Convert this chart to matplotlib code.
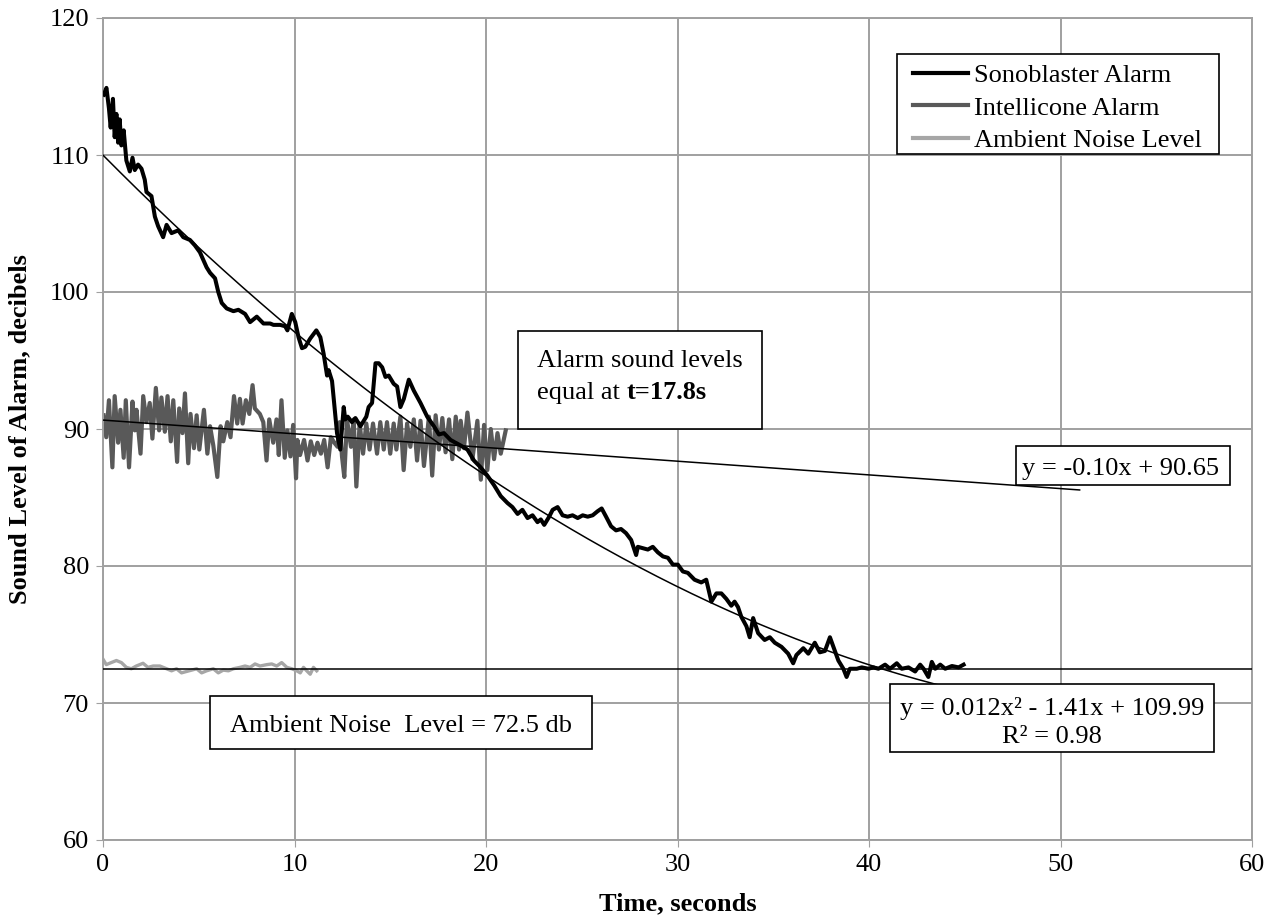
import matplotlib
matplotlib.use("Agg")
import matplotlib.pyplot as plt
from matplotlib.patches import Rectangle
import numpy as np

# Sonoblaster alarm readings (time s, level dB)
sono_t = [0.04, 0.18, 0.31, 0.40, 0.52, 0.61, 0.70, 0.79, 0.87, 0.96, 1.08, 1.22, 1.40, 1.54,
          1.66, 1.83, 2.01, 2.18, 2.27, 2.53, 2.71, 2.88, 3.14, 3.32, 3.58, 3.93, 4.19, 4.54,
          4.80, 5.06, 5.41, 5.59, 5.85, 6.02, 6.20, 6.46, 6.81, 7.07, 7.42, 7.68, 8.03, 8.38,
          8.73, 8.90, 9.25, 9.51, 9.63, 9.86, 10.04, 10.21, 10.39, 10.56, 10.82, 11.14, 11.35,
          11.52, 11.70, 11.78, 11.96, 12.22, 12.39, 12.57, 12.65, 12.78, 13.00, 13.18, 13.35,
          13.44, 13.75, 13.87, 14.05, 14.23, 14.40, 14.58, 14.75, 14.92, 15.18, 15.36, 15.53,
          15.71, 15.97, 16.23, 16.58, 16.93, 17.28, 17.54, 17.80, 18.15, 18.67, 19.03, 19.37,
          19.72, 20.07, 20.42, 20.77, 21.12, 21.38, 21.65, 21.90, 22.17, 22.43, 22.69, 22.86,
          23.04, 23.30, 23.48, 23.74, 24.00, 24.26, 24.52, 24.79, 25.05, 25.31, 25.57, 25.83,
          26.04, 26.27, 26.53, 26.79, 27.05, 27.31, 27.58, 27.84, 27.93, 28.19, 28.45, 28.71,
          28.97, 29.24, 29.50, 29.76, 30.02, 30.28, 30.54, 30.89, 31.24, 31.50, 31.77, 32.03,
          32.29, 32.55, 32.81, 32.98, 33.16, 33.33, 33.60, 33.77, 33.95, 34.21, 34.55, 34.82,
          35.08, 35.43, 35.78, 36.04, 36.21, 36.57, 36.83, 37.17, 37.43, 37.70, 37.96, 38.14,
          38.40, 38.66, 38.83, 39.00, 39.36, 39.62, 39.97, 40.23, 40.49, 40.84, 41.10, 41.45,
          41.71, 42.06, 42.41, 42.67, 42.85, 43.10, 43.28, 43.46, 43.72, 43.98, 44.33, 44.68,
          44.94]
sono_db = [114.4, 114.9, 113.4, 112.0, 114.1, 111.3, 113.0, 110.9, 112.6, 110.7, 111.8, 109.6,
           108.8, 109.8, 108.9, 109.3, 109.0, 108.2, 107.3, 107.0, 105.5, 104.8, 104.0, 104.9,
           104.3, 104.5, 104.0, 103.8, 103.4, 102.9, 101.8, 101.4, 101.0, 100.0, 99.2, 98.8,
           98.6, 98.7, 98.4, 97.8, 98.2, 97.7, 97.7, 97.6, 97.6, 97.5, 97.2, 98.4, 97.8, 96.7,
           95.9, 96.0, 96.6, 97.2, 96.7, 95.5, 93.9, 94.3, 93.5, 89.7, 88.5, 91.6, 90.7, 90.9,
           90.5, 90.8, 90.4, 90.2, 90.9, 91.6, 91.9, 94.8, 94.8, 94.5, 93.8, 93.9, 93.3, 93.1,
           91.6, 92.2, 93.6, 92.8, 91.9, 90.9, 90.2, 89.6, 89.7, 89.2, 88.8, 88.5, 87.7, 87.2,
           86.6, 85.9, 85.1, 84.6, 84.3, 83.8, 84.1, 83.5, 83.7, 83.2, 83.4, 83.0, 83.6, 84.1,
           84.3, 83.7, 83.6, 83.7, 83.5, 83.7, 83.6, 83.7, 84.0, 84.2, 83.6, 82.9, 82.6, 82.7,
           82.4, 81.9, 80.8, 81.4, 81.3, 81.2, 81.4, 81.0, 80.7, 80.6, 80.1, 80.1, 79.6, 79.5,
           79.0, 78.8, 79.0, 77.4, 78.0, 78.0, 77.6, 77.1, 77.4, 77.0, 76.3, 75.6, 74.8, 76.2,
           75.1, 74.6, 74.8, 74.4, 74.1, 73.6, 72.9, 73.5, 74.0, 73.6, 74.4, 73.7, 73.8, 74.8,
           74.1, 73.1, 72.5, 71.9, 72.5, 72.5, 72.6, 72.5, 72.6, 72.5, 72.8, 72.5, 72.9, 72.5,
           72.6, 72.3, 72.8, 72.5, 71.9, 73.0, 72.5, 72.8, 72.5, 72.7, 72.6, 72.8]

# Intellicone alarm readings
intel_t = [0.03, 0.17, 0.31, 0.49, 0.61, 0.79, 0.91, 1.08, 1.19, 1.36, 1.54, 1.66, 1.75, 1.96,
           2.10, 2.27, 2.44, 2.58, 2.76, 2.93, 3.05, 3.23, 3.37, 3.54, 3.67, 3.87, 3.98, 4.15,
           4.28, 4.45, 4.57, 4.75, 4.89, 5.03, 5.27, 5.45, 5.59, 5.76, 5.97, 6.14, 6.28, 6.49,
           6.66, 6.84, 7.01, 7.15, 7.29, 7.46, 7.64, 7.81, 7.93, 8.19, 8.37, 8.54, 8.68, 8.89,
           9.06, 9.18, 9.32, 9.49, 9.63, 9.79, 9.93, 10.08, 10.15, 10.29, 10.50, 10.68, 10.85,
           11.03, 11.20, 11.38, 11.55, 11.73, 11.90, 12.08, 12.25, 12.36, 12.48, 12.60, 12.74,
           12.95, 13.09, 13.23, 13.40, 13.58, 13.75, 13.92, 14.10, 14.31, 14.48, 14.66, 14.83,
           15.00, 15.18, 15.32, 15.53, 15.70, 15.88, 16.05, 16.23, 16.40, 16.58, 16.76, 17.02,
           17.19, 17.37, 17.54, 17.72, 17.89, 18.07, 18.24, 18.42, 18.59, 18.68, 18.85, 19.03,
           19.29, 19.55, 19.73, 19.90, 20.07, 20.25, 20.42, 20.60, 20.77, 21.03]
intel_db = [91.0, 89.4, 92.1, 87.2, 92.4, 89.0, 91.4, 87.9, 92.1, 87.2, 92.0, 89.9, 91.4, 88.2,
            92.4, 90.5, 91.9, 89.3, 93.0, 89.9, 92.3, 89.8, 92.4, 89.1, 92.1, 87.6, 91.5, 89.7,
            92.6, 87.5, 91.1, 88.6, 91.0, 88.5, 91.4, 88.2, 90.2, 88.8, 86.5, 90.2, 89.1, 90.5,
            89.4, 92.4, 90.4, 92.2, 90.4, 92.1, 91.1, 93.2, 91.5, 91.1, 90.5, 87.7, 90.7, 89.0,
            90.7, 88.1, 92.1, 87.9, 89.9, 88.0, 90.3, 86.4, 89.2, 88.1, 89.2, 87.7, 89.1, 88.1,
            89.0, 88.2, 89.2, 87.2, 89.4, 89.0, 88.7, 90.5, 88.0, 86.5, 90.7, 88.7, 90.7, 85.8,
            90.4, 88.2, 90.4, 88.5, 90.4, 88.2, 90.5, 88.5, 90.5, 88.2, 90.4, 88.5, 90.9, 87.0,
            90.4, 88.7, 90.7, 87.7, 90.6, 87.3, 90.9, 86.6, 91.0, 88.5, 90.8, 88.3, 90.7, 87.8,
            90.9, 88.5, 90.6, 88.6, 91.2, 87.8, 90.6, 86.3, 90.3, 87.0, 90.0, 87.8, 89.7, 88.2,
            89.9]

# Ambient noise readings
amb_t = [0.00, 0.17, 0.43, 0.70, 0.96, 1.22, 1.48, 1.74, 2.09, 2.35, 2.62, 2.97, 3.32, 3.58,
         3.84, 4.10, 4.36, 4.63, 4.89, 5.15, 5.41, 5.76, 6.02, 6.28, 6.55, 6.81, 7.15, 7.42,
         7.68, 7.94, 8.20, 8.55, 8.81, 9.07, 9.33, 9.60, 9.86, 10.12, 10.30, 10.47, 10.64,
         10.82, 10.99, 11.16]
amb_db = [73.2, 72.8, 72.95, 73.1, 72.95, 72.6, 72.5, 72.7, 72.9, 72.6, 72.7, 72.7, 72.5, 72.35,
          72.5, 72.2, 72.3, 72.4, 72.5, 72.2, 72.35, 72.5, 72.2, 72.4, 72.35, 72.5, 72.6, 72.7,
          72.6, 72.85, 72.7, 72.8, 72.85, 72.7, 72.95, 72.6, 72.5, 72.35, 72.2, 72.6, 72.35,
          72.1, 72.6, 72.35]

# trendline coefficients shown on the chart
quad_coef = [0.012, -1.41, 109.99]
lin_coef = [-0.10, 90.65]
ambient_level = 72.5

plt.rcParams['font.family'] = ['Liberation Serif', 'DejaVu Serif']
plt.rcParams['font.size'] = 19

fig = plt.figure(figsize=(12.76, 9.24), dpi=100)
ax = fig.add_axes([103/1276, 84/924, 1149/1276, 822/924])

ax.plot(sono_t, sono_db, color='black', lw=2.9, label='Sonoblaster Alarm', zorder=3)
ax.plot(intel_t, intel_db, color='#595959', lw=3.0, label='Intellicone Alarm', zorder=2)
ax.plot(amb_t, amb_db, color='#a6a6a6', lw=2.4, label='Ambient Noise Level', zorder=2)

tq = np.linspace(0, 45, 200)
ax.plot(tq, np.polyval(quad_coef, tq), color='black', lw=1.1, zorder=4)
tl = np.array([0, 51])
ax.plot(tl, np.polyval(lin_coef, tl), color='black', lw=1.1, zorder=4)
ax.axhline(ambient_level, color='black', lw=1.1, zorder=4)

ax.set_xlim(0, 60)
ax.set_ylim(60, 120)
ax.set_xticks(range(0, 61, 10))
ax.set_yticks(range(60, 121, 10))
ax.grid(True, color='#a0a0a0', lw=1.4)
ax.set_axisbelow(True)
for s in ax.spines.values():
    s.set_color('#a0a0a0')
    s.set_linewidth(1.4)
ax.tick_params(direction='out', length=5, color='#a0a0a0', labelsize=19, pad=5)
ax.set_xlabel('Time, seconds', fontweight='bold', fontsize=19, labelpad=12)
ax.set_ylabel('Sound Level of Alarm, decibels', fontweight='bold', fontsize=19, labelpad=13)


def fx(px):
    return (px - 103) / 1149


def fy(py):
    return (840 - py) / 822


def box(px0, px1, py0, py1):
    # pixel corners -> axes fraction
    ax.add_patch(Rectangle((fx(px0), fy(py1)), fx(px1) - fx(px0), fy(py0) - fy(py1),
                           transform=ax.transAxes, facecolor='white', edgecolor='black',
                           lw=1.2, zorder=6))


# legend with a plain square frame
box(897, 1219, 54, 154)
leg = ax.legend(loc='upper left', bbox_to_anchor=(fx(905), fy(56)), borderaxespad=0,
                frameon=False, handlelength=2.1, handletextpad=0.2, labelspacing=0.33,
                fontsize=19, borderpad=0.3)
leg.set_zorder(8)
for h in leg.get_lines():
    h.set_linewidth(3)

# text boxes
box(518, 762, 331, 429)
ax.text(fx(537), fy(367), 'Alarm sound levels', transform=ax.transAxes, va='baseline',
        ha='left', fontsize=19, zorder=7)
t1 = ax.text(fx(537), fy(399), 'equal at ', transform=ax.transAxes, va='baseline', ha='left',
             fontsize=19, zorder=7)
ax.annotate('t=17.8s', xy=(1, 0), xycoords=t1, va='bottom', ha='left', fontsize=19,
            fontweight='bold', zorder=7)

box(1016, 1230, 446, 485)
ax.text(fx(1121), fy(475), 'y = -0.10x + 90.65', transform=ax.transAxes, va='baseline',
        ha='center', fontsize=19, zorder=7)

box(890, 1214, 684, 752)
ax.text(fx(1052), fy(715), 'y = 0.012x² - 1.41x + 109.99', transform=ax.transAxes,
        va='baseline', ha='center', fontsize=19, zorder=7)
ax.text(fx(1052), fy(743), 'R² = 0.98', transform=ax.transAxes,
        va='baseline', ha='center', fontsize=19, zorder=7)

box(210, 592, 696, 749)
ax.text(fx(230), fy(732), 'Ambient Noise  Level = 72.5 db', transform=ax.transAxes,
        va='baseline', ha='left', fontsize=19, zorder=7)

fig.savefig('out.png', dpi=100)
